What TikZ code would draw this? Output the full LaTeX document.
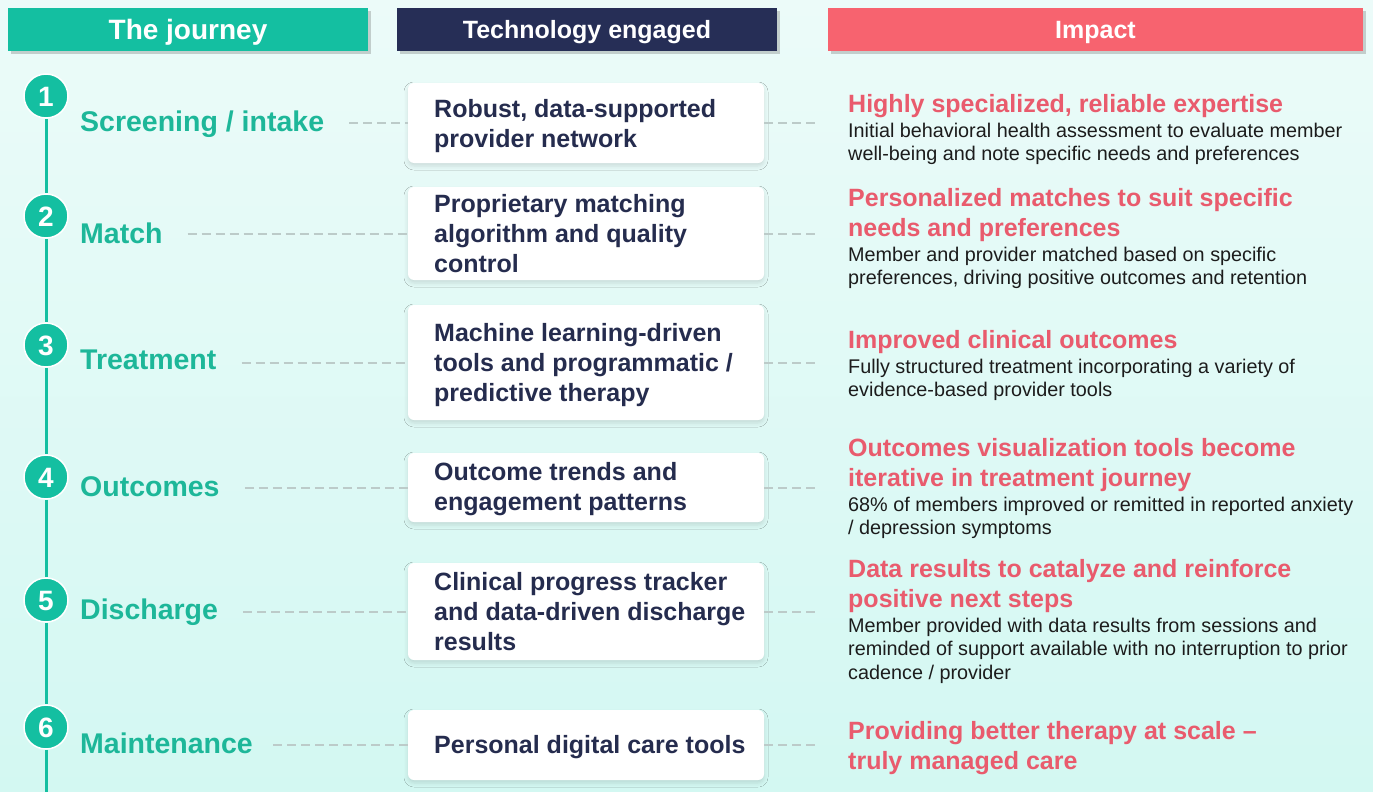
\documentclass[tikz,border=0pt]{standalone}
\usepackage{fontspec}
\setmainfont{Liberation Sans}
\usetikzlibrary{shadows,shadows.blur}
\definecolor{bgtop}{HTML}{ECFBF9}
\definecolor{bgbot}{HTML}{D3F8F2}
\definecolor{tealA}{HTML}{14BFA1}
\definecolor{tealtxt}{HTML}{1DB799}
\definecolor{navyA}{HTML}{262E56}
\definecolor{navytxt}{HTML}{252C4E}
\definecolor{pinkhdr}{HTML}{F7636F}
\definecolor{pinktxt}{HTML}{E95B6D}
\definecolor{dashgray}{HTML}{BCCBC9}
\definecolor{bodytxt}{HTML}{1C1C1C}
\newcommand\tstrut{\rule{0pt}{20pt}}
\newcommand\bstrut{\rule{0pt}{15pt}}
\begin{document}
\begin{tikzpicture}[x=1pt,y=-1pt,
  hdr/.style={minimum height=43pt, inner sep=0pt, text=white,
    font=\bfseries\fontsize{25}{30}\selectfont, text height=18pt, text depth=0pt,
    drop shadow={shadow xshift=3pt, shadow yshift=-3pt, opacity=0.3, fill=black!60}},
  stepcirc/.style={circle, minimum size=44pt, inner sep=0pt, fill=tealA, draw=white,
    line width=1.5pt, text=white, font=\bfseries\fontsize{28}{30}\selectfont,
    text height=20pt, text depth=0pt},
  steplabel/.style={anchor=base west, inner sep=0pt, text=tealtxt,
    font=\bfseries\fontsize{28.5}{30}\selectfont},
  techbox/.style={fill=white, rounded corners=6pt, minimum width=356pt, inner sep=0pt,
    blur shadow={shadow xshift=0pt, shadow yshift=-3pt, shadow blur radius=4pt, shadow opacity=12}},
  techtxt/.style={anchor=north west, inner sep=0pt, align=left, text=navytxt,
    font=\bfseries\fontsize{25}{30}\selectfont},
  imptitle/.style={anchor=north west, inner sep=0pt, align=left, text=pinktxt,
    font=\bfseries\fontsize{25}{30}\selectfont},
  impbody/.style={anchor=north west, inner sep=0pt, align=left, text=bodytxt,
    font=\fontsize{19.8}{23.5}\selectfont},
  dashline/.style={draw=dashgray, line width=2pt, dash pattern=on 9pt off 5pt},
  tline/.style={draw=tealA, line width=3pt}
]
\useasboundingbox (0,0) rectangle (1373,792);
\shade[top color=bgtop, bottom color=bgbot] (0,0) rectangle (1373,792);

% headers
\node[hdr, fill=tealA, minimum width=360pt, font=\bfseries\fontsize{28}{30}\selectfont, text height=20pt] (h1) at (188,29.5) {The journey};
\node[hdr, fill=navyA, minimum width=380pt] (h2) at (587,29.5) {Technology engaged};
\node[hdr, fill=pinkhdr, minimum width=535pt] (h3) at (1095.5,29.5) {Impact};

% timeline circles
\node[stepcirc] (c1) at (46,96) {1};
\node[stepcirc] (c2) at (46,216) {2};
\node[stepcirc] (c3) at (46,345) {3};
\node[stepcirc] (c4) at (46,477) {4};
\node[stepcirc] (c5) at (46,600) {5};
\node[stepcirc] (c6) at (46,727) {6};
\coordinate (bottom) at (46,792);
\draw[tline] (c1.south) -- (c2.north);
\draw[tline] (c2.south) -- (c3.north);
\draw[tline] (c3.south) -- (c4.north);
\draw[tline] (c4.south) -- (c5.north);
\draw[tline] (c5.south) -- (c6.north);
\draw[tline] (c6.south) -- (bottom);

% step labels
\node[steplabel] (l1) at (80,131) {Screening / intake};
\node[steplabel] (l2) at (80,243) {Match};
\node[steplabel] (l3) at (80,369) {Treatment};
\node[steplabel] (l4) at (80,496) {Outcomes};
\node[steplabel] (l5) at (80,619) {Discharge};
\node[steplabel] (l6) at (80,753) {Maintenance};

% technology boxes
\node[techbox, minimum height=80pt] (t1) at (586,123) {};
\node[techbox, minimum height=93pt] (t2) at (586,233.5) {};
\node[techbox, minimum height=115pt] (t3) at (586,362.5) {};
\node[techbox, minimum height=69pt] (t4) at (586,487.5) {};
\node[techbox, minimum height=97pt] (t5) at (586,611.5) {};
\node[techbox, minimum height=70pt] (t6) at (586,745) {};

\node[techtxt] (tt1) at (434,97) {\tstrut Robust, data-supported\\provider network};
\node[techtxt] (tt2) at (434,192) {\tstrut Proprietary matching\\algorithm and quality\\control};
\node[techtxt] (tt3) at (434,321) {\tstrut Machine learning-driven\\tools and programmatic /\\predictive therapy};
\node[techtxt] (tt4) at (434,460) {\tstrut Outcome trends and\\engagement patterns};
\node[techtxt] (tt5) at (434,570) {\tstrut Clinical progress tracker\\and data-driven discharge\\results};
\node[techtxt] (tt6) at (434,733) {\tstrut Personal digital care tools};

% dashed connectors
\draw[dashline, shorten <=25pt] (l1.east |- t1.west) -- (t1.west);
\draw[dashline, shorten <=25pt] (l2.east |- t2.west) -- (t2.west);
\draw[dashline, shorten <=25pt] (l3.east |- t3.west) -- (t3.west);
\draw[dashline, shorten <=25pt] (l4.east |- t4.west) -- (t4.west);
\draw[dashline, shorten <=25pt] (l5.east |- t5.west) -- (t5.west);
\draw[dashline, shorten <=20pt] (l6.east |- t6.west) -- (t6.west);

\coordinate (r1) at (815,123);
\coordinate (r2) at (818,233.5);
\coordinate (r3) at (818,362.5);
\coordinate (r4) at (818,487.5);
\coordinate (r5) at (818,611.5);
\coordinate (r6) at (820,745);
\draw[dashline] (t1.east) -- (r1);
\draw[dashline] (t2.east) -- (r2);
\draw[dashline] (t3.east) -- (r3);
\draw[dashline] (t4.east) -- (r4);
\draw[dashline] (t5.east) -- (r5);
\draw[dashline] (t6.east) -- (r6);

% impact texts
\node[imptitle] (i1) at (848,92) {\tstrut Highly specialized, reliable expertise};
\node[impbody] (b1) at (848,122) {\bstrut Initial behavioral health assessment to evaluate member\\well-being and note specific needs and preferences};
\node[imptitle] (i2) at (848,186) {\tstrut Personalized matches to suit specific\\needs and preferences};
\node[impbody] (b2) at (848,246) {\bstrut Member and provider matched based on specific\\preferences, driving positive outcomes and retention};
\node[imptitle] (i3) at (848,328) {\tstrut Improved clinical outcomes};
\node[impbody] (b3) at (848,358) {\bstrut Fully structured treatment incorporating a variety of\\evidence-based provider tools};
\node[imptitle] (i4) at (848,436) {\tstrut Outcomes visualization tools become\\iterative in treatment journey};
\node[impbody] (b4) at (848,496) {\bstrut 68\% of members improved or remitted in reported anxiety\\/ depression symptoms};
\node[imptitle] (i5) at (848,557) {\tstrut Data results to catalyze and reinforce\\positive next steps};
\node[impbody] (b5) at (848,617) {\bstrut Member provided with data results from sessions and\\reminded of support available with no interruption to prior\\cadence / provider};
\node[imptitle] (i6) at (848,719) {\tstrut Providing better therapy at scale --\\truly managed care};
\end{tikzpicture}
\end{document}
